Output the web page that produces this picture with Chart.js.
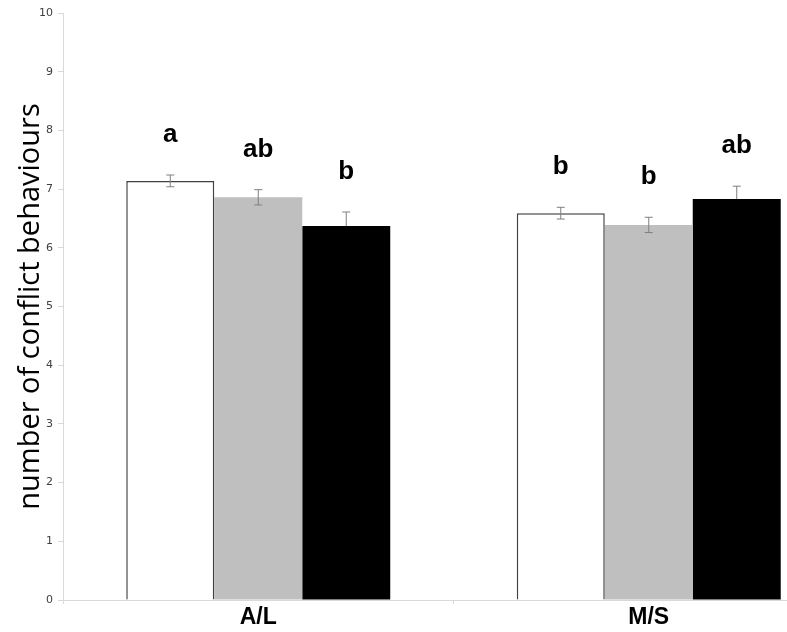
<!DOCTYPE html>
<html>
<head>
<meta charset="utf-8">
<script src="https://cdn.jsdelivr.net/npm/chart.js@4.4.1/dist/chart.umd.min.js"></script>
<style>
  html, body { margin: 0; padding: 0; background: #fff; }
  #wrap { width: 787px; height: 632px; overflow: hidden; }
</style>
</head>
<body>
<div id="wrap"><canvas id="chart" width="860" height="632"></canvas></div>
<script>
// Categories (groups on the x axis)
const groups = ["A/L", "M/S"];

// Mean values for the three treatments
const whiteMeans = [7.14, 6.59];
const greyMeans = [6.86, 6.39];
const blackMeans = [6.37, 6.83];

// Error bar sizes (+/-)
const whiteErr = [0.10, 0.10];
const greyErr = [0.13, 0.13];
const blackErr = [0.24, 0.22];

// Significance letters above bars
const whiteLetters = ["a", "b"];
const greyLetters = ["ab", "b"];
const blackLetters = ["b", "ab"];

const yTicks = [0, 1, 2, 3, 4, 5, 6, 7, 8, 9, 10];

const axisGrey = '#d9d9d9';

// draws error bars and the letters on top of each bar
const errorBarPlugin = {
    id: 'errorBars',
    afterDatasetsDraw(chart) {
        const ctx = chart.ctx;
        const yScale = chart.scales.y;
        chart.data.datasets.forEach((ds, i) => {
            const meta = chart.getDatasetMeta(i);
            meta.data.forEach((bar, j) => {
                const v = ds.data[j];
                const e = ds.errors[j];
                const top = yScale.getPixelForValue(v + e);
                // black bars hide the lower half of the error bar
                const bottom = ds.hideLowerError ? bar.y : yScale.getPixelForValue(v - e);
                ctx.save();
                ctx.strokeStyle = '#7f7f7f';
                ctx.lineWidth = 1;
                ctx.beginPath();
                ctx.moveTo(bar.x, top);
                ctx.lineTo(bar.x, bottom);
                ctx.moveTo(bar.x - 4, top);
                ctx.lineTo(bar.x + 4, top);
                if (!ds.hideLowerError) {
                    ctx.moveTo(bar.x - 4, bottom);
                    ctx.lineTo(bar.x + 4, bottom);
                }
                ctx.stroke();

                ctx.fillStyle = '#000';
                ctx.font = 'bold 26px "Liberation Sans", Arial, sans-serif';
                ctx.textAlign = 'center';
                ctx.textBaseline = 'alphabetic';
                ctx.fillText(ds.letters[j], bar.x, top - 33);
                ctx.restore();
            });
        });
    }
};

const ctx = document.getElementById("chart").getContext("2d");
const chart = new Chart(ctx, {
    type: "bar",
    data: {
        labels: groups,
        datasets: [
            {
                label: "white",
                data: whiteMeans,
                errors: whiteErr,
                letters: whiteLetters,
                backgroundColor: '#ffffff',
                borderColor: '#404040',
                borderWidth: 1.5
            },
            {
                label: "grey",
                data: greyMeans,
                errors: greyErr,
                letters: greyLetters,
                backgroundColor: '#bfbfbf',
                borderWidth: 0
            },
            {
                label: "black",
                data: blackMeans,
                errors: blackErr,
                letters: blackLetters,
                hideLowerError: true,
                backgroundColor: '#000000',
                borderWidth: 0
            }
        ]
    },
    options: {
        responsive: false,
        animation: false,
        devicePixelRatio: 1,
        categoryPercentage: 0.676,
        barPercentage: 1,
        layout: { padding: { top: 13, right: 16, left: 0, bottom: 0 } },
        plugins: {
            legend: { display: false },
            tooltip: { enabled: false }
        },
        scales: {
            x: {
                afterFit(scale) { scale.height = 32; },
                grid: {
                    offset: true,
                    drawOnChartArea: false,
                    drawTicks: true,
                    tickLength: 4,
                    color: axisGrey
                },
                border: { color: axisGrey },
                ticks: {
                    color: '#000',
                    padding: 0,
                    font: { family: '"Liberation Sans Narrow", "Liberation Sans", Arial, sans-serif', size: 23, weight: 'bold' }
                }
            },
            y: {
                min: 0,
                max: 10,
                afterFit(scale) { scale.width = 63; },
                afterBuildTicks(scale) { scale.ticks = yTicks.map(v => ({ value: v })); },
                grid: {
                    drawOnChartArea: false,
                    drawTicks: true,
                    tickLength: 5,
                    color: axisGrey
                },
                border: { color: axisGrey },
                ticks: {
                    color: '#404040',
                    padding: 5,
                    font: { family: '"DejaVu Sans", Verdana, sans-serif', size: 11 }
                },
                title: {
                    display: true,
                    text: "number of conflict behaviours",
                    color: '#000',
                    padding: { top: 13, bottom: 0 },
                    font: { family: '"Open Sans", "Noto Sans", sans-serif', size: 29 }
                }
            }
        }
    },
    plugins: [errorBarPlugin]
});
</script>
</body>
</html>
